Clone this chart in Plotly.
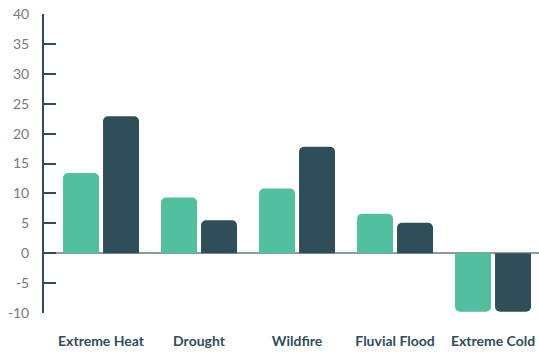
import plotly.graph_objects as go

categories = ["Extreme Heat", "Drought", "Wildfire", "Fluvial Flood", "Extreme Cold"]
series_a = [13.4, 9.3, 10.8, 6.6, -9.8]
series_b = [22.9, 5.5, 17.8, 5.1, -9.8]
y_ticks = [-10, -5, 0, 5, 10, 15, 20, 25, 30, 35, 40]
y_tick_labels = ["-10", "-5", "0", "5", "10", "15", "20", "25", "30", "35", "40"]

GREEN = "#52c09e"
DARK = "#304d5a"

fig = go.Figure()
fig.add_trace(go.Bar(x=categories, y=series_a, marker=dict(color=GREEN, line=dict(width=0)), name="A"))
fig.add_trace(go.Bar(x=categories, y=series_b, marker=dict(color=DARK, line=dict(width=0)), name="B"))

fig.update_layout(
    width=539, height=355,
    margin=dict(l=44, r=0, t=14, b=42),
    paper_bgcolor="white", plot_bgcolor="white",
    barmode="group", bargap=0.184, bargroupgap=0.1,
    barcornerradius=5,
    showlegend=False,
    font=dict(family="Lato", color="#777777", size=14),
)
fig.update_xaxes(
    range=[-0.582, 4.469],
    showline=False, showgrid=False, zeroline=False,
    ticks="", ticklabelstandoff=18,
    tickfont=dict(family="Lato", size=14, color=DARK, weight="bold"),
)
fig.update_yaxes(
    range=[-10, 40], tickvals=y_ticks, ticktext=y_tick_labels,
    showgrid=False, showline=True, linecolor=DARK, linewidth=2,
    ticks="inside", ticklen=12, tickwidth=2, tickcolor=DARK,
    zeroline=True, zerolinecolor="#8d9ba3", zerolinewidth=2,
    ticklabelstandoff=10,
    tickfont=dict(family="Lato", size=14, color="#7a7a7a"),
)
fig.write_html("out.html")
